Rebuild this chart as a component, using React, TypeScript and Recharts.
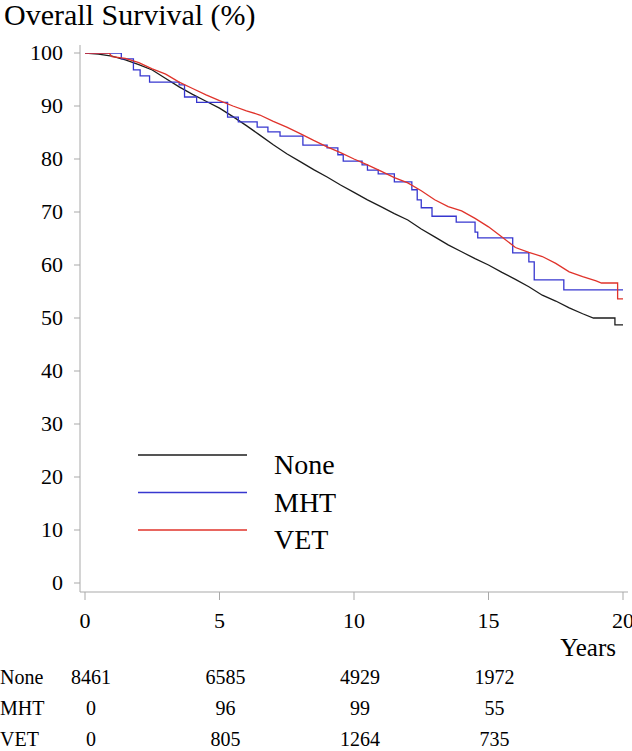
import React from "react";
import { LineChart, Line, XAxis, YAxis, Legend, Label } from "recharts";

const serif = "'Liberation Serif', 'Times New Roman', serif";

// Kaplan-Meier curves (years, survival %)
const noneYears = [0, 0.5, 1, 1.5, 2, 2.5, 3, 3.5, 4, 4.5, 5, 5.5, 6, 6.5, 7, 7.5, 8, 8.5, 9, 9.5, 10, 10.5, 11, 11.5, 12, 12.5, 13, 13.5, 14, 14.5, 15, 15.5, 16, 16.5, 17, 17.5, 18, 18.5, 18.9, 19.7, 19.7, 20];
const noneSurvival = [100, 99.8, 99.4, 98.7, 97.8, 96.8, 95.2, 93.6, 92.2, 90.9, 89.6, 88.0, 86.3, 84.5, 82.7, 81.0, 79.5, 78.0, 76.6, 75.1, 73.7, 72.3, 71.0, 69.7, 68.5, 66.8, 65.3, 63.8, 62.5, 61.2, 60.0, 58.6, 57.3, 55.9, 54.3, 53.2, 51.9, 50.8, 50.0, 50.0, 48.7, 48.7];

const mhtYears = [0, 1.35, 1.8, 2.05, 2.4, 3.5, 3.7, 4.15, 5.3, 5.7, 6.4, 6.8, 7.25, 8.1, 9.0, 9.4, 9.6, 10.3, 10.5, 10.9, 11.5, 12.15, 12.35, 12.5, 12.9, 13.8, 14.5, 14.6, 15.9, 16.5, 16.7, 17.8, 20];
const mhtSurvival = [100, 98.9, 96.8, 95.7, 94.5, 94.0, 91.7, 90.7, 87.9, 87.0, 86.0, 85.1, 84.3, 82.6, 82.1, 80.8, 79.6, 78.9, 77.9, 77.2, 75.7, 74.2, 72.3, 70.8, 69.2, 68.1, 66.2, 65.1, 62.3, 60.6, 57.2, 55.3, 55.3];

const vetYears = [0, 0.9, 1.0, 1.5, 2, 2.5, 3, 3.5, 4, 4.5, 5, 5.5, 6, 6.5, 7, 7.5, 8, 8.5, 9, 9.5, 10, 10.5, 11, 11.5, 12, 12.5, 13, 13.5, 14, 14.5, 15, 15.5, 16, 16.5, 17, 17.5, 18, 18.5, 19, 19.2, 19.8, 19.8, 20];
const vetSurvival = [100, 100, 99.3, 99.0, 98.2, 97.0, 96.0, 94.5, 93.3, 92.1, 91.0, 90.0, 89.1, 88.3, 87.1, 86.0, 84.8, 83.5, 82.3, 81.2, 80.0, 78.9, 77.7, 76.5, 75.5, 74.0, 72.3, 71.0, 70.2, 68.8, 67.2, 65.3, 63.3, 62.4, 61.6, 60.3, 58.7, 57.8, 57.0, 56.6, 56.6, 53.6, 53.6];

const seriesNames = ["None", "MHT", "VET"];
const xTicks = [0, 5, 10, 15, 20];
const yTicks = [0, 10, 20, 30, 40, 50, 60, 70, 80, 90, 100];

// numbers at risk
const riskTimes = [0, 5, 10, 15];
const riskNone = [8461, 6585, 4929, 1972];
const riskMht = [0, 96, 99, 55];
const riskVet = [0, 805, 1264, 735];

const zip = (ts: number[], ss: number[]) => ts.map((t, i) => ({ t, s: ss[i] }));
const noneData = zip(noneYears, noneSurvival);
const mhtData = zip(mhtYears, mhtSurvival);
const vetData = zip(vetYears, vetSurvival);
const riskData = (counts: number[]) => riskTimes.map((t, i) => ({ t, n: counts[i] }));

const frame = "#a9a9a9";
const xPad = { left: 5, right: 5 };

const XTick = (props: any) => (
  <text x={props.x} y={props.y} dy="0.71em" textAnchor="middle" fontSize={22} fontFamily={serif} fill="#000">
    {props.payload.value}
  </text>
);

const YTick = (props: any) => (
  <text x={props.x} y={props.y} dy="0.34em" textAnchor="end" fontSize={22} fontFamily={serif} fill="#000">
    {props.payload.value}
  </text>
);

const YearsLabel = (props: any) => {
  const { x, y, width, height } = props.viewBox;
  return (
    <text x={x + width - 12} y={y + height - 12} textAnchor="end" fontSize={25} fontFamily={serif} fill="#000">
      Years
    </text>
  );
};

const rowLabel = (name: string) => (props: any) => {
  const { y } = props.viewBox;
  return (
    <text x={0} y={y + 2} dy="0.71em" fontSize={20} fontFamily={serif} fill="#000">
      {name}
    </text>
  );
};

const renderLegend = (props: any) => {
  const items = (props.payload || [])
    .filter((e: any) => seriesNames.includes(e.value))
    .sort((a: any, b: any) => seriesNames.indexOf(a.value) - seriesNames.indexOf(b.value));
  return (
    <svg width={260} height={120}>
      {items.map((e: any, i: number) => (
        <g key={e.value}>
          <line x1={8} x2={117} y1={15 + i * 37.5} y2={15 + i * 37.5} stroke={e.color} strokeWidth={1.3} />
          <text x={144} y={34 + i * 37.5} fontSize={28} fontFamily={serif} fill="#000">
            {e.value}
          </text>
        </g>
      ))}
    </svg>
  );
};

const riskAxis = (id: string, name: string, counts: number[], height: number) => (
  <XAxis
    key={id}
    xAxisId={id}
    dataKey="t"
    type="number"
    domain={[0, 20]}
    allowDataOverflow
    padding={xPad}
    ticks={riskTimes}
    tickFormatter={(v: number) => String(counts[riskTimes.indexOf(v)])}
    axisLine={false}
    tickLine={false}
    tickSize={0}
    tickMargin={2}
    height={height}
    interval={0}
    tick={{ fill: "#000", fontSize: 20, fontFamily: serif, dx: 6 }}
  >
    <Label content={rowLabel(name)} />
  </XAxis>
);

const riskLine = (id: string, counts: number[]) => (
  <Line
    key={id + "line"}
    xAxisId={id}
    yAxisId="right"
    data={riskData(counts)}
    dataKey="n"
    stroke="none"
    legendType="none"
    dot={false}
    activeDot={false}
    isAnimationActive={false}
  />
);

export default function App() {
  return (
    <div style={{ position: "absolute", left: 0, top: 0, width: 632, height: 751, background: "#fff", fontFamily: serif }}>
      <div style={{ position: "absolute", left: 4, top: 0, fontFamily: serif, fontSize: 30, lineHeight: "30px", color: "#000", whiteSpace: "nowrap" }}>
        Overall Survival (%)
      </div>
      <LineChart width={632} height={751} margin={{ top: 45, right: 4, left: 0, bottom: 0 }} style={{ fontFamily: serif }}>
        <XAxis
          xAxisId="main"
          dataKey="t"
          type="number"
          domain={[0, 20]}
          allowDataOverflow
          padding={xPad}
          ticks={xTicks}
          interval={0}
          stroke={frame}
          tickSize={8}
          tickMargin={12}
          height={76}
          tick={<XTick />}
        >
          <Label content={YearsLabel} />
        </XAxis>
        {riskAxis("r1None", "None", riskNone, 31)}
        {riskAxis("r2Mht", "MHT", riskMht, 31)}
        {riskAxis("r3Vet", "VET", riskVet, 21)}
        <XAxis xAxisId="top" orientation="top" type="number" domain={[0, 20]} allowDataOverflow padding={xPad} height={0} tick={false} tickLine={false} stroke={frame} />
        <YAxis
          yAxisId="left"
          type="number"
          domain={[0, 100]}
          allowDataOverflow
          padding={{ top: 8, bottom: 9 }}
          ticks={yTicks}
          interval={0}
          width={80}
          stroke={frame}
          tickSize={6}
          tickMargin={11}
          tick={<YTick />}
        />
        <YAxis yAxisId="right" orientation="right" type="number" domain={[0, 100]} allowDataOverflow padding={{ top: 8, bottom: 9 }} width={0} tick={false} tickLine={false} stroke={frame} />
        <Legend
          content={renderLegend}
          layout="horizontal"
          verticalAlign="middle"
          align="center"
          wrapperStyle={{ left: 130, top: 440, width: 260, height: 120 }}
        />
        <Line xAxisId="main" yAxisId="left" name="None" data={noneData} dataKey="s" type="linear" stroke="#1c1c1c" strokeWidth={1.3} dot={false} isAnimationActive={false} />
        <Line xAxisId="main" yAxisId="left" name="MHT" data={mhtData} dataKey="s" type="stepAfter" stroke="#3737cf" strokeWidth={1.3} dot={false} isAnimationActive={false} />
        <Line xAxisId="main" yAxisId="left" name="VET" data={vetData} dataKey="s" type="linear" stroke="#e0332b" strokeWidth={1.3} dot={false} isAnimationActive={false} />
        {riskLine("r1None", riskNone)}
        {riskLine("r2Mht", riskMht)}
        {riskLine("r3Vet", riskVet)}
      </LineChart>
    </div>
  );
}
